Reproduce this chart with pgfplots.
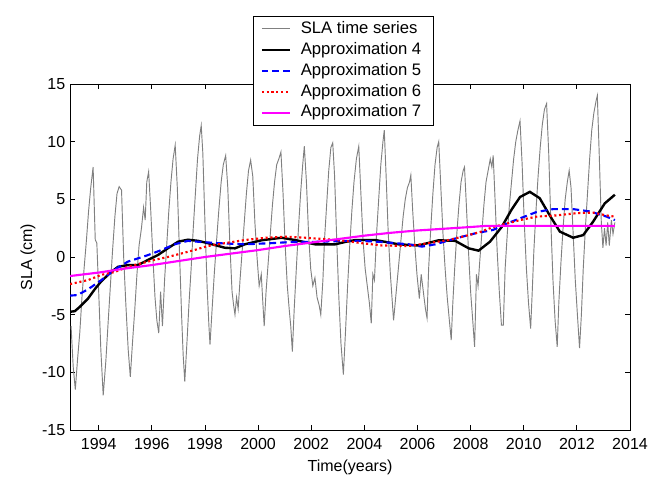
\documentclass[border=0pt]{standalone}
\usepackage{fontspec}
\setmainfont{Liberation Sans}
\usepackage{pgfplots}
\pgfplotsset{compat=1.18}
\definecolor{slagray}{rgb}{0.5,0.5,0.5}
\definecolor{mag}{rgb}{1,0,1}
\begin{document}
\begin{tikzpicture}
\path[use as bounding box] (-52.5pt,-36pt) rectangle (442.5pt,322.5pt);
\begin{axis}[
  scale only axis,
  width=420pt, height=259.5pt,
  xmin=1992.92, xmax=2014, ymin=-15, ymax=15,
  xtick={1994,1996,...,2014},
  xticklabels={1994,1996,1998,2000,2002,2004,2006,2008,2010,2012,2014},
  ytick={-15,-10,...,15},
  yticklabels={-15,-10,-5,0,5,10,15},
  tick align=inside, tick pos=both, major tick length=3.75pt,
  tick style={black, line width=0.6pt},
  axis line style={black, line width=0.6pt},
  tick label style={font=\fontsize{12}{14}\selectfont},
  xticklabel style={yshift=-3pt},
  label style={font=\fontsize{12}{14}\selectfont},
  xlabel={Time(years)}, ylabel={SLA (cm)},
  xlabel style={at={(axis description cs:0.5,-0.108)}, anchor=center},
  ylabel style={at={(axis description cs:-0.075,0.5)}, anchor=center},
  legend cell align=left,
  legend style={at={(0.3273,1.1965)}, anchor=north west, draw=black, fill=white,
    line width=0.6pt, inner xsep=5.2pt, inner ysep=1.5pt, row sep=0pt, column sep=3pt,
    font=\fontsize{12.5}{14}\selectfont,
    nodes={inner xsep=4.1pt, inner ysep=2.1pt, text height=9pt, text depth=2.5pt}},
  legend image code/.code={\draw[#1] plot coordinates {(0pt,0pt) (10.6pt,0pt) (21.25pt,0pt)};},
]
\addplot[slagray, line width=0.7pt] coordinates {
(1992.96,-6.0) (1993.04,-9.5) (1993.12,-11.5) (1993.20,-9.0) (1993.29,-6.5) (1993.37,-3.5) (1993.45,-1.0) (1993.54,1.5) (1993.62,4.0) (1993.70,6.0) (1993.79,7.8) (1993.87,1.5) (1993.93,1.2) (1994.00,-3.0) (1994.08,-8.0) (1994.17,-12.0)
(1994.27,-9.0) (1994.36,-5.5) (1994.44,-2.5) (1994.52,0.5) (1994.61,3.5) (1994.69,5.5) (1994.77,6.1) (1994.86,5.8) (1994.94,0.0) (1995.02,-4.0) (1995.11,-8.0) (1995.19,-10.4)
(1995.27,-7.5) (1995.36,-4.5) (1995.44,-1.5) (1995.52,1.0) (1995.61,2.5) (1995.69,4.3) (1995.75,3.2) (1995.81,6.5) (1995.88,7.4) (1995.96,4.0) (1996.04,0.0) (1996.12,-3.5) (1996.19,-5.5) (1996.26,-6.6) (1996.33,-3.0) (1996.40,-6.0) (1996.48,-2.0)
(1996.56,1.0) (1996.64,4.0) (1996.72,6.5) (1996.80,8.5) (1996.88,9.7) (1996.96,6.0) (1997.04,0.5) (1997.12,-5.0) (1997.18,-8.5) (1997.24,-10.8)
(1997.32,-7.5) (1997.40,-4.0) (1997.48,-1.0) (1997.56,2.5) (1997.64,5.5) (1997.72,8.5) (1997.80,10.5) (1997.86,11.4) (1997.92,9.0) (1998.00,3.0) (1998.08,-2.5) (1998.15,-6.0) (1998.19,-7.6)
(1998.27,-4.5) (1998.35,-1.5) (1998.44,1.5) (1998.52,4.0) (1998.61,6.5) (1998.69,8.0) (1998.78,8.8) (1998.86,6.0) (1998.94,1.0) (1999.02,-3.0) (1999.08,-4.2) (1999.13,-5.0) (1999.19,-3.5) (1999.25,-4.5) (1999.32,-2.0)
(1999.40,0.5) (1999.48,3.0) (1999.56,5.5) (1999.64,7.5) (1999.72,8.4) (1999.80,7.0) (1999.88,3.0) (1999.96,0.0) (2000.04,-2.5) (2000.12,-1.5) (2000.18,-4.0) (2000.23,-6.0) (2000.30,-3.0)
(2000.38,-0.5) (2000.46,2.0) (2000.54,4.5) (2000.62,6.5) (2000.70,8.0) (2000.78,8.5) (2000.86,9.1) (2000.94,5.5) (2001.02,1.0) (2001.10,-2.5) (2001.17,-4.5) (2001.23,-6.0) (2001.29,-8.2) (2001.36,-4.5)
(2001.44,-1.0) (2001.52,2.5) (2001.60,5.5) (2001.68,8.0) (2001.74,9.6) (2001.82,6.5) (2001.90,2.0) (2001.98,-1.0) (2002.06,-2.5) (2002.14,-1.8) (2002.22,-3.5) (2002.30,-4.2) (2002.36,-5.0) (2002.44,-2.0)
(2002.50,1.5) (2002.58,4.5) (2002.66,7.5) (2002.74,9.5) (2002.81,9.9) (2002.88,7.0) (2002.96,1.5) (2003.04,-3.5) (2003.12,-7.5) (2003.21,-10.2) (2003.29,-6.5)
(2003.37,-2.5) (2003.45,1.0) (2003.53,4.0) (2003.61,6.5) (2003.70,8.5) (2003.79,9.6) (2003.87,5.5) (2003.95,1.5) (2004.03,-1.0) (2004.11,-2.5) (2004.19,-4.0) (2004.26,-5.75) (2004.32,-1.5) (2004.38,-2.0)
(2004.46,2.0) (2004.54,5.0) (2004.62,8.0) (2004.70,10.0) (2004.75,11.0) (2004.82,7.0) (2004.90,2.0) (2004.98,-1.5) (2005.04,-3.5) (2005.10,-5.5) (2005.16,-4.0) (2005.22,-2.5)
(2005.30,-0.5) (2005.38,1.5) (2005.46,3.5) (2005.54,5.0) (2005.62,6.0) (2005.70,6.5) (2005.75,7.1) (2005.82,4.0) (2005.90,1.0) (2005.98,-1.5) (2006.07,-3.6) (2006.14,-1.5) (2006.22,-3.0) (2006.30,-4.5) (2006.36,-5.3) (2006.42,-1.0)
(2006.50,2.5) (2006.58,5.5) (2006.66,8.0) (2006.74,9.5) (2006.80,10.0) (2006.88,6.0) (2006.96,2.0) (2007.04,-1.0) (2007.12,-3.5) (2007.20,-5.5) (2007.27,-7.2) (2007.33,-4.0)
(2007.40,-1.0) (2007.48,2.0) (2007.56,4.5) (2007.64,6.5) (2007.72,7.5) (2007.77,7.8) (2007.84,4.5) (2007.92,0.5) (2008.00,-3.0) (2008.08,-5.5) (2008.15,-7.8) (2008.22,-1.5) (2008.28,-2.5) (2008.34,-0.5)
(2008.42,2.0) (2008.50,4.5) (2008.58,6.5) (2008.66,7.5) (2008.74,8.5) (2008.80,7.8) (2008.85,8.8) (2008.92,5.0) (2009.00,0.5) (2009.08,-3.0) (2009.16,-5.9) (2009.23,-5.9) (2009.30,-1.0)
(2009.38,2.0) (2009.46,4.5) (2009.54,6.5) (2009.62,8.5) (2009.70,10.0) (2009.78,11.0) (2009.86,11.8) (2009.94,8.0) (2010.02,3.0) (2010.10,-1.0) (2010.18,-4.0) (2010.26,-6.2) (2010.32,-3.0)
(2010.38,0.5) (2010.46,4.0) (2010.54,7.0) (2010.62,9.5) (2010.70,11.5) (2010.78,12.8) (2010.86,13.3) (2010.94,9.0) (2011.02,3.0) (2011.10,-2.0) (2011.18,-5.5) (2011.26,-7.8) (2011.32,-4.0)
(2011.40,-0.5) (2011.48,2.5) (2011.56,5.0) (2011.64,6.5) (2011.71,7.5) (2011.78,6.0) (2011.86,2.0) (2011.94,-2.0) (2012.02,-5.0) (2012.10,-7.9) (2012.17,-5.0)
(2012.24,-1.0) (2012.32,2.5) (2012.40,5.5) (2012.48,8.5) (2012.56,11.0) (2012.64,12.5) (2012.72,13.5) (2012.77,14.0) (2012.84,9.0) (2012.92,3.0) (2012.98,0.8) (2013.04,2.5) (2013.10,1.0) (2013.16,3.0) (2013.22,1.0) (2013.30,3.2) (2013.36,2.0) (2013.43,3.0)
};
\addlegendentry{SLA time series}
\addplot[black, line width=1.8pt] coordinates {
(1992.92,-4.75) (1993.1,-4.7) (1993.3,-4.3) (1993.6,-3.6) (1993.85,-2.8) (1994.1,-2.1) (1994.47,-1.3) (1994.73,-0.85) (1995.1,-0.7) (1995.48,-0.7) (1995.86,-0.25) (1996.23,0.17) (1996.6,0.75) (1996.99,1.33) (1997.36,1.5) (1997.74,1.4) (1998.11,1.2) (1998.75,0.8) (1999.13,0.75) (1999.5,1.1) (2000.13,1.45) (2000.89,1.67) (2001.39,1.47) (2002.14,1.1) (2002.9,1.1) (2003.27,1.3) (2003.66,1.47) (2004.41,1.47) (2005.29,1.1) (2006.04,1.0) (2006.8,1.45) (2007.42,1.4) (2007.93,0.75) (2008.3,0.55) (2008.73,1.33) (2009.17,2.6) (2009.54,4.1) (2009.86,5.2) (2010.23,5.65) (2010.6,5.1) (2010.98,3.6) (2011.36,2.2) (2011.86,1.67) (2012.24,1.9) (2012.61,3.06) (2013.05,4.65) (2013.43,5.4)
};
\addlegendentry{Approximation 4}
\addplot[blue, line width=1.6pt, dash pattern=on 5pt off 3pt] coordinates {
(1992.92,-3.35) (1993.2,-3.3) (1993.6,-2.8) (1994.1,-2.0) (1994.6,-1.1) (1995.1,-0.4) (1995.5,-0.1) (1995.86,0.17) (1996.36,0.6) (1996.86,1.1) (1997.36,1.4) (1997.86,1.3) (1998.5,1.2) (1999.5,1.1) (2000.5,1.2) (2001.25,1.3) (2002.0,1.3) (2003.27,1.4) (2003.91,1.4) (2004.66,1.3) (2005.66,1.1) (2006.17,0.9) (2006.67,1.1) (2007.42,1.6) (2008.17,2.05) (2008.85,2.35) (2009.36,2.9) (2009.86,3.35) (2010.48,3.9) (2011.1,4.15) (2011.86,4.15) (2012.49,3.95) (2013.12,3.5) (2013.43,3.2)
};
\addlegendentry{Approximation 5}
\addplot[red, line width=1.6pt, dash pattern=on 1.6pt off 2pt] coordinates {
(1992.92,-2.35) (1993.6,-2.0) (1994.1,-1.55) (1994.6,-1.3) (1995.1,-0.85) (1995.6,-0.55) (1996.1,-0.25) (1996.6,0.0) (1997.1,0.3) (1997.6,0.6) (1998.1,0.95) (1998.75,1.2) (1999.5,1.47) (2000.3,1.67) (2001.0,1.76) (2001.8,1.67) (2002.5,1.55) (2003.27,1.4) (2003.9,1.2) (2004.66,1.0) (2005.66,0.95) (2006.4,1.2) (2007.17,1.47) (2007.93,1.9) (2008.4,2.2) (2008.85,2.6) (2009.36,2.9) (2009.86,3.2) (2010.48,3.5) (2011.2,3.6) (2011.98,3.8) (2012.61,3.85) (2013.12,3.6) (2013.43,3.5)
};
\addlegendentry{Approximation 6}
\addplot[mag, line width=1.6pt] coordinates {
(1992.92,-1.65) (1994,-1.35) (1995,-1.0) (1996,-0.7) (1997,-0.35) (1998,0.0) (1999,0.3) (2000,0.6) (2001,0.95) (2002,1.25) (2003,1.55) (2004,1.85) (2005,2.1) (2006,2.3) (2007,2.45) (2008,2.6) (2008.6,2.7) (2013.43,2.7)
};
\addlegendentry{Approximation 7}
\end{axis}
\end{tikzpicture}
\end{document}
